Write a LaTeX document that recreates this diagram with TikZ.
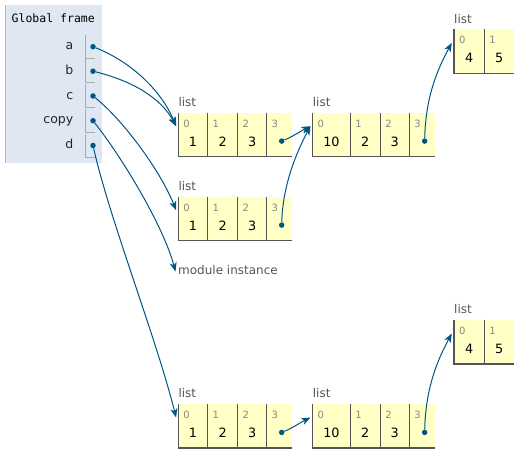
\documentclass[tikz,border=0pt]{standalone}
\usepackage{fontspec}
\setmainfont{DejaVu Sans}
\setmonofont{DejaVu Sans Mono}
\usetikzlibrary{arrows.meta}
\definecolor{cellyellow}{HTML}{FFFFC6}
\definecolor{bordergray}{HTML}{555555}
\definecolor{idxgray}{HTML}{8C8686}
\definecolor{lblgray}{HTML}{555555}
\definecolor{framebg}{HTML}{DFE7F3}
\definecolor{framebord}{HTML}{AAB4BE}
\definecolor{lgray}{HTML}{AAAAAA}
\definecolor{arrowblue}{HTML}{005583}
\tikzset{
  cellborder/.style={draw=bordergray, line width=1.1pt},
  idx/.style={font=\fontsize{10}{11}\selectfont, text=idxgray, anchor=west, inner sep=0pt, text height=7.3pt, text depth=0pt},
  val/.style={font=\fontsize{12.8}{13}\selectfont, text=black, inner sep=0pt, text height=9.3pt, text depth=0pt},
  lbl/.style={font=\fontsize{12}{13}\selectfont, text=lblgray, anchor=west, inner sep=0pt, text height=8.8pt, text depth=2.5pt},
  varname/.style={font=\fontsize{12.5}{13}\selectfont, text=black!85, anchor=east, inner sep=0pt, text height=9.1pt, text depth=2.7pt},
  mono/.style={font=\ttfamily\fontsize{11.5}{12}\selectfont, text=black, anchor=west, inner sep=0pt, text height=8.5pt, text depth=2.5pt},
  ptr/.style={circle, fill=arrowblue, inner sep=0pt, minimum size=5.5pt},
  ref/.style={draw=arrowblue, line width=1pt, -{Stealth[length=9pt,width=7pt,inset=2.5pt]}},
  slot/.style={draw=lgray, line width=0.9pt},
}
% #1 name, #2 left x, #3 top y, #4 entries index/xl/xr/value
\newcommand\mkpylist[4]{%
  \coordinate (#1-in) at (#2-2.2,#3+13.5);
  \node[lbl] (#1-lbl) at (#2,#3-9.4) {list};
  \foreach \i/\xl/\xr/\v in {#4}{%
    \fill[cellyellow] (\xl,#3) rectangle (\xr,#3+44);
    \draw[cellborder] (\xl,#3) -- (\xl,#3+44);
    \draw[cellborder] (\xl-0.55,#3+44) -- (\xr,#3+44);
    \node[idx] (#1-i\i) at (\xl+4.8,#3+10.8) {\i};
    \node[val] (#1-\i) at ({(\xl+\xr)/2},#3+29) {\v};
  }%
}
\begin{document}
\begin{tikzpicture}[x=1pt,y=-1pt]
\useasboundingbox (0,0) rectangle (520,454);
\fill[white] (0,0) rectangle (520,454);

% Global frame
\fill[framebg] (5,5) rectangle (101.7,163);
\draw[framebord, line width=0.9pt] (5.5,5) -- (5.5,163);
\node[mono] (gf) at (11.5,20) {Global frame};
\foreach \n/\y in {a/46.7, b/71.2, c/96, copy/120.7, d/145.5}{%
  \node[varname] (n-\n) at (73.5,\y) {\n};
  \draw[slot] (85,\y-11.7) -- (85,\y+11.6) -- (94.5,\y+11.6);
  \node[ptr] (v-\n) at (93,\y) {};
}

% lists
\mkpylist{A}{178.3}{112.7}{0/178.3/207.7/1, 1/207.7/237.5/2, 2/237.5/266.7/3, 3/266.7/291.7/}
\mkpylist{B}{312.7}{112.7}{0/312.7/350.3/10, 1/350.3/380.3/2, 2/380.3/409.3/3, 3/409.3/435/}
\mkpylist{T}{454}{29.3}{0/454/484.3/4, 1/484.3/514/5}
\mkpylist{C}{178.3}{196.7}{0/178.3/207.7/1, 1/207.7/237.5/2, 2/237.5/266.7/3, 3/266.7/291.7/}
\mkpylist{D}{178.3}{404}{0/178.3/207.7/1, 1/207.7/237.5/2, 2/237.5/266.7/3, 3/266.7/291.7/}
\mkpylist{E}{312.7}{404}{0/312.7/350.3/10, 1/350.3/380.3/2, 2/380.3/409.3/3, 3/409.3/435/}
\mkpylist{R}{454}{320}{0/454/484.3/4, 1/484.3/514/5}

\node[lbl] (mod) at (178,271.5) {module instance};
\coordinate (mod-in) at ([xshift=-2.5]mod.west);

% pointer dots inside lists
\node[ptr] (A-p) at ([xshift=2.5,yshift=0.6]A-3) {};
\node[ptr] (B-p) at ([xshift=2.5,yshift=0.6]B-3) {};
\node[ptr] (C-p) at ([xshift=2.5,yshift=0.6]C-3) {};
\node[ptr] (D-p) at ([xshift=2.5,yshift=0.6]D-3) {};
\node[ptr] (E-p) at ([xshift=2.5,yshift=0.6]E-3) {};

% references from frame
\draw[ref] (v-a) .. controls +(40,16) and +(-14,-34) .. (A-in);
\draw[ref] (v-b) .. controls +(40,10) and +(-15,-28) .. (A-in);
\draw[ref] (v-c) .. controls +(30,24) and +(-16,-40) .. (C-in);
\draw[ref] (v-copy) .. controls +(30,38) and +(-12,-45) .. (mod-in);
\draw[ref] (v-d) .. controls +(17,75) and +(-20,-80) .. (D-in);

% references between lists
\draw[ref] (A-p) .. controls +(10,-4) and +(-10,5) .. (B-in);
\draw[ref] (C-p) .. controls +(1,-40) and +(-14,26) .. (B-in);
\draw[ref] (B-p) .. controls +(1,-45) and +(-14,26) .. (T-in);
\draw[ref] (D-p) .. controls +(10,-4) and +(-10,5) .. (E-in);
\draw[ref] (E-p) .. controls +(1,-45) and +(-14,26) .. (R-in);
\end{tikzpicture}
\end{document}
